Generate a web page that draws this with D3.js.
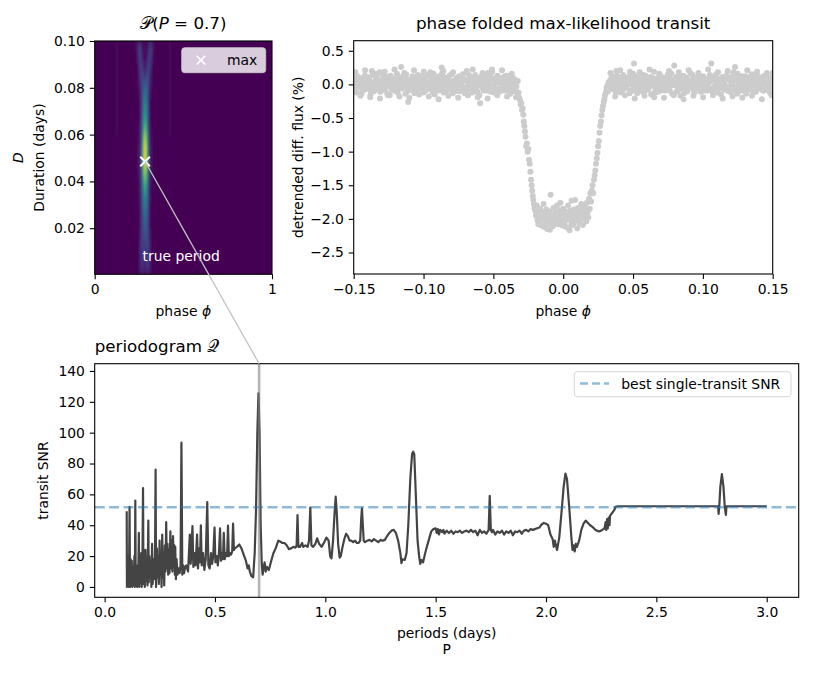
<!DOCTYPE html>
<html>
<head>
<meta charset="utf-8">
<title>periodogram</title>
<script src="https://cdn.jsdelivr.net/npm/d3@7"></script>
<style>
  body { margin: 0; background: #fff; }
  svg { display: block; font-family: 'DejaVu Sans', sans-serif; }
  .tick text { font-size: 13.9px; fill: #000; font-family: 'DejaVu Sans', sans-serif; }
  .tick line { stroke: #000; stroke-width: 1.1; }
  .label { font-size: 13.9px; fill: #000; }
  .title { font-size: 16.7px; fill: #000; }
</style>
</head>
<body>
<svg id="chart" width="830" height="675"></svg>
<script>
// ---- heatmap P(P=0.7): phase columns x duration rows ----
const heatPhases = [0.124, 0.234, 0.244, 0.254, 0.264, 0.274, 0.284, 0.294, 0.304, 0.314, 0.324, 0.334, 0.425]
const heatDurations = [0.0975, 0.0925, 0.0875, 0.0825, 0.0775, 0.0725, 0.0675, 0.0625, 0.0575, 0.0525,
                       0.0475, 0.0425, 0.0375, 0.0325, 0.0275, 0.0225, 0.0175, 0.0125, 0.0075, 0.0025]
const heatValues = [
  [0.03, 0.02, 0.10, 0.24, 0.07, 0.03, 0.03, 0.03, 0.07, 0.24, 0.10, 0.02, 0.03],
  [0.03, 0.01, 0.06, 0.22, 0.15, 0.05, 0.04, 0.05, 0.15, 0.22, 0.06, 0.01, 0.03],
  [0.03, 0.00, 0.03, 0.12, 0.25, 0.14, 0.08, 0.14, 0.25, 0.12, 0.03, 0.00, 0.03],
  [0.03, 0.00, 0.02, 0.07, 0.22, 0.28, 0.22, 0.28, 0.22, 0.07, 0.02, 0.00, 0.03],
  [0.03, 0.00, 0.01, 0.05, 0.16, 0.34, 0.40, 0.34, 0.16, 0.05, 0.01, 0.00, 0.03],
  [0.03, 0.00, 0.01, 0.04, 0.14, 0.40, 0.50, 0.40, 0.14, 0.04, 0.01, 0.00, 0.03],
  [0.03, 0.00, 0.01, 0.04, 0.15, 0.45, 0.60, 0.45, 0.15, 0.04, 0.01, 0.00, 0.03],
  [0.03, 0.00, 0.01, 0.05, 0.18, 0.55, 0.76, 0.55, 0.18, 0.05, 0.01, 0.00, 0.03],
  [0.02, 0.00, 0.02, 0.06, 0.22, 0.68, 0.92, 0.68, 0.22, 0.06, 0.02, 0.00, 0.02],
  [0.02, 0.00, 0.02, 0.07, 0.25, 0.76, 1.00, 0.76, 0.25, 0.07, 0.02, 0.00, 0.02],
  [0.02, 0.00, 0.02, 0.07, 0.25, 0.74, 0.98, 0.74, 0.25, 0.07, 0.02, 0.00, 0.02],
  [0.02, 0.00, 0.02, 0.06, 0.22, 0.62, 0.82, 0.62, 0.22, 0.06, 0.02, 0.00, 0.02],
  [0.02, 0.00, 0.01, 0.05, 0.18, 0.50, 0.64, 0.50, 0.18, 0.05, 0.01, 0.00, 0.02],
  [0.02, 0.00, 0.01, 0.05, 0.15, 0.42, 0.50, 0.42, 0.15, 0.05, 0.01, 0.00, 0.02],
  [0.02, 0.00, 0.01, 0.04, 0.14, 0.35, 0.40, 0.35, 0.14, 0.04, 0.01, 0.00, 0.02],
  [0.02, 0.00, 0.01, 0.04, 0.14, 0.30, 0.32, 0.30, 0.14, 0.04, 0.01, 0.00, 0.02],
  [0.02, 0.00, 0.01, 0.05, 0.16, 0.27, 0.24, 0.27, 0.16, 0.05, 0.01, 0.00, 0.02],
  [0.02, 0.00, 0.01, 0.06, 0.19, 0.23, 0.15, 0.23, 0.19, 0.06, 0.01, 0.00, 0.02],
  [0.02, 0.00, 0.01, 0.06, 0.19, 0.18, 0.09, 0.18, 0.19, 0.06, 0.01, 0.00, 0.02],
  [0.02, 0.00, 0.01, 0.05, 0.15, 0.13, 0.06, 0.13, 0.15, 0.05, 0.01, 0.00, 0.02]
]
const maxPoint = { phase: 0.284, duration: 0.0485 }

// ---- phase folded transit: [phase, detrended flux %] ----
const outOfTransit = [
  [-0.150,-0.05],[-0.149,0.08],[-0.148,-0.12],[-0.147,0.02],[-0.146,0.10],[-0.145,-0.03],[-0.144,0.05],[-0.143,-0.09],[-0.142,0.13],[-0.141,0.00],
  [-0.140,-0.06],[-0.139,0.07],[-0.138,-0.15],[-0.137,0.20],[-0.136,0.03],[-0.135,-0.08],[-0.134,0.11],[-0.133,-0.02],[-0.132,0.06],[-0.131,-0.11],
  [-0.130,0.15],[-0.129,0.01],[-0.128,-0.07],[-0.127,0.09],[-0.126,-0.13],[-0.125,0.04],[-0.124,0.12],[-0.123,-0.04],[-0.122,0.07],[-0.121,-0.09],
  [-0.120,0.02],[-0.119,0.16],[-0.118,-0.06],[-0.117,0.10],[-0.116,0.26],[-0.115,-0.01],[-0.114,0.05],[-0.113,-0.14],[-0.112,0.08],[-0.111,-0.26],
  [-0.110,0.03],[-0.109,-0.08],[-0.108,0.12],[-0.107,-0.03],[-0.106,0.06],[-0.105,-0.10],[-0.104,0.14],[-0.103,0.00],[-0.102,-0.05],[-0.101,0.09],
  [-0.100,-0.12],[-0.099,0.04],[-0.098,0.11],[-0.097,-0.07],[-0.096,0.02],[-0.095,0.18],[-0.094,-0.04],[-0.093,0.07],[-0.092,-0.15],[-0.091,0.10],
  [-0.090,0.01],[-0.089,-0.09],[-0.088,0.13],[-0.087,0.25],[-0.086,-0.02],[-0.085,0.06],[-0.084,-0.11],[-0.083,0.08],[-0.082,-0.06],[-0.081,0.03],
  [-0.080,0.15],[-0.079,-0.13],[-0.078,0.05],[-0.077,-0.01],[-0.076,0.10],[-0.075,-0.08],[-0.074,0.02],[-0.073,0.12],[-0.072,-0.05],[-0.071,0.07],
  [-0.070,-0.10],[-0.069,0.20],[-0.068,0.00],[-0.067,-0.07],[-0.066,0.09],[-0.065,-0.12],[-0.064,0.04],[-0.063,0.14],[-0.062,-0.03],[-0.061,0.06],
  [-0.060,-0.16],[-0.0595,-0.28],[-0.059,0.08],[-0.058,0.01],[-0.057,-0.09],[-0.056,0.11],[-0.055,-0.04],[-0.054,0.17],[-0.053,0.05],[-0.052,-0.11],
  [-0.051,0.22],[-0.050,-0.02],[-0.049,0.09],[-0.048,-0.07],[-0.047,0.13],[-0.046,0.03],[-0.045,-0.10],[-0.044,0.06],[-0.043,-0.05],[-0.042,0.12],
  [-0.041,0.00],[-0.040,-0.08],[-0.039,0.07],[-0.038,-0.14],[-0.037,0.04],[-0.036,0.10],[-0.035,-0.06],[-0.034,0.02],[-0.033,-0.12],[-0.0325,0.05],
  [-0.1495,0.03],[-0.1485,-0.08],[-0.1475,0.12],[-0.1465,-0.01],[-0.1455,0.06],[-0.1445,-0.14],[-0.1435,0.09],[-0.1425,-0.04],[-0.1415,0.02],[-0.1405,0.11],
  [-0.1395,-0.07],[-0.1385,0.05],[-0.1375,-0.02],[-0.1365,0.14],[-0.1355,-0.10],[-0.1345,0.01],[-0.1335,0.08],[-0.1325,-0.05],[-0.1315,0.18],[-0.1305,-0.09],
  [-0.1295,0.04],[-0.1285,0.10],[-0.1275,-0.03],[-0.1265,0.07],[-0.1255,-0.16],[-0.1245,0.00],[-0.1235,0.13],[-0.1225,-0.08],[-0.1215,0.05],[-0.1205,-0.02],
  [-0.1195,0.09],[-0.1185,-0.12],[-0.1175,0.03],[-0.1165,0.11],[-0.1155,-0.06],[-0.1145,0.07],[-0.1135,-0.01],[-0.1125,0.15],[-0.1115,-0.10],[-0.1105,0.02],
  [-0.1095,0.06],[-0.1085,-0.04],[-0.1075,0.10],[-0.1065,-0.13],[-0.1055,0.01],[-0.1045,0.08],[-0.1035,-0.07],[-0.1025,0.04],[-0.1015,0.12],[-0.1005,-0.02],
  [-0.0995,0.07],[-0.0985,-0.09],[-0.0975,0.02],[-0.0965,0.14],[-0.0955,-0.05],[-0.0945,0.09],[-0.0935,-0.11],[-0.0925,0.03],[-0.0915,0.06],[-0.0905,-0.03],
  [-0.0895,0.11],[-0.0885,-0.07],[-0.0875,0.04],[-0.0865,0.17],[-0.0855,-0.12],[-0.0845,0.00],[-0.0835,0.08],[-0.0825,-0.04],[-0.0815,0.13],[-0.0805,-0.08],
  [-0.0795,0.05],[-0.0785,0.01],[-0.0775,-0.10],[-0.0765,0.09],[-0.0755,-0.02],[-0.0745,0.12],[-0.0735,-0.06],[-0.0725,0.03],[-0.0715,0.07],[-0.0705,-0.13],
  [-0.0695,0.06],[-0.0685,-0.03],[-0.0675,0.14],[-0.0665,-0.08],[-0.0655,0.02],[-0.0645,0.10],[-0.0635,-0.05],[-0.0625,0.08],[-0.0615,-0.11],[-0.0605,0.04],
  [-0.0585,0.12],[-0.0575,-0.06],[-0.0565,0.03],[-0.0555,0.09],[-0.0545,-0.09],[-0.0535,0.01],[-0.0525,0.15],[-0.0515,-0.04],[-0.0505,0.07],[-0.0495,-0.12],
  [-0.0485,0.05],[-0.0475,0.11],[-0.0465,-0.07],[-0.0455,0.02],[-0.0445,0.09],[-0.0435,-0.02],[-0.0425,0.06],[-0.0415,-0.09],[-0.0405,0.13],[-0.0395,0.00],
  [-0.0385,0.08],[-0.0375,-0.05],[-0.0365,0.03],[-0.0355,-0.10],[-0.0345,0.07],[-0.0335,-0.03],
  [-0.1488,0.18],[-0.1452,-0.17],[-0.1418,0.21],[-0.1382,-0.19],[-0.1347,0.16],[-0.1312,-0.21],[-0.1278,0.19],[-0.1242,-0.16],[-0.1208,0.22],[-0.1172,-0.18],
  [-0.1138,0.17],[-0.1102,-0.20],[-0.1068,0.21],[-0.1032,-0.15],[-0.0998,0.19],[-0.0962,-0.18],[-0.0928,0.16],[-0.0892,-0.22],[-0.0858,0.20],[-0.0822,-0.17],
  [-0.0788,0.18],[-0.0752,-0.20],[-0.0718,0.15],[-0.0682,-0.16],[-0.0648,0.22],[-0.0612,-0.19],[-0.0578,0.17],[-0.0542,-0.21],[-0.0508,0.19],[-0.0472,-0.16],
  [-0.0438,0.21],[-0.0402,-0.18],[-0.0368,0.16],[-0.0338,-0.19],
  [-0.14925,-0.02],[-0.14675,0.07],[-0.14425,-0.06],[-0.14175,0.04],[-0.13925,0.10],[-0.13675,-0.09],[-0.13425,0.05],[-0.13175,-0.01],[-0.12925,-0.08],[-0.12675,0.11],
  [-0.12425,-0.04],[-0.12175,0.08],[-0.11925,-0.10],[-0.11675,0.02],[-0.11425,0.09],[-0.11175,-0.05],[-0.10925,0.06],[-0.10675,-0.02],[-0.10425,-0.09],[-0.10175,0.03],
  [-0.09925,0.10],[-0.09675,-0.03],[-0.09425,0.05],[-0.09175,-0.08],[-0.08925,0.07],[-0.08675,-0.05],[-0.08425,0.10],[-0.08175,0.00],[-0.07925,-0.07],[-0.07675,0.04],
  [-0.07425,-0.10],[-0.07175,0.09],[-0.06925,-0.04],[-0.06675,0.03],[-0.06425,-0.07],[-0.06175,0.10],[-0.05925,-0.02],[-0.05675,0.06],[-0.05425,-0.06],[-0.05175,0.09],
  [-0.04925,-0.03],[-0.04675,0.04],[-0.04425,-0.08],[-0.04175,0.10],[-0.03925,-0.05],[-0.03675,0.06],[-0.03425,-0.01],
  [0.032,-0.10],[0.033,0.04],[0.034,-0.02],[0.035,0.12],[0.036,-0.07],[0.037,0.06],[0.038,0.20],[0.039,-0.04],[0.040,0.09],[0.041,-0.12],
  [0.042,0.02],[0.043,0.14],[0.044,-0.06],[0.045,0.07],[0.046,-0.01],[0.047,0.11],[0.048,-0.09],[0.049,0.03],[0.050,0.16],[0.0507,0.31],
  [0.051,-0.05],[0.052,0.08],[0.053,-0.13],[0.054,0.01],[0.055,0.10],[0.056,-0.03],[0.057,0.06],[0.058,-0.10],[0.059,0.13],[0.060,0.00],
  [0.061,-0.07],[0.062,0.09],[0.063,-0.15],[0.064,0.04],[0.065,0.19],[0.066,-0.02],[0.067,0.07],[0.068,-0.11],[0.069,0.12],[0.070,0.02],
  [0.071,-0.06],[0.072,0.10],[0.073,-0.09],[0.074,0.05],[0.075,0.15],[0.076,-0.04],[0.077,0.08],[0.078,-0.14],[0.079,0.03],[0.0795,0.28],
  [0.080,-0.01],[0.081,0.11],[0.082,-0.08],[0.083,0.06],[0.084,-0.17],[0.085,0.02],[0.086,0.13],[0.087,-0.05],[0.088,0.09],[0.089,-0.10],
  [0.090,0.04],[0.091,0.17],[0.092,-0.03],[0.093,0.07],[0.094,-0.12],[0.095,0.01],[0.096,0.10],[0.097,-0.07],[0.098,0.05],[0.099,-0.02],
  [0.100,0.12],[0.101,-0.09],[0.102,0.03],[0.103,0.08],[0.104,-0.05],[0.105,0.14],[0.106,0.31],[0.107,-0.11],[0.108,0.06],[0.109,-0.01],
  [0.110,0.09],[0.111,-0.06],[0.112,0.04],[0.113,-0.15],[0.114,0.11],[0.115,0.00],[0.116,-0.08],[0.117,0.13],[0.118,-0.03],[0.119,0.07],
  [0.120,-0.12],[0.121,0.05],[0.122,0.18],[0.123,0.26],[0.124,-0.04],[0.125,0.08],[0.126,-0.10],[0.127,0.02],[0.128,0.12],[0.129,-0.06],
  [0.130,0.06],[0.131,-0.14],[0.132,0.10],[0.133,0.01],[0.134,-0.08],[0.135,0.15],[0.136,-0.02],[0.137,0.07],[0.138,-0.11],[0.139,0.04],
  [0.140,0.11],[0.141,-0.05],[0.142,0.08],[0.143,-0.09],[0.144,0.02],[0.145,0.13],[0.146,-0.04],[0.147,0.06],[0.148,-0.12],[0.149,0.09],[0.150,0.17],
  [0.0325,0.03],[0.0335,-0.06],[0.0345,0.09],[0.0355,-0.01],[0.0365,0.05],[0.0375,-0.11],[0.0385,0.13],[0.0395,0.01],[0.0405,-0.04],[0.0415,0.07],
  [0.0425,-0.08],[0.0435,0.04],[0.0445,0.10],[0.0455,-0.02],[0.0465,0.06],[0.0475,-0.13],[0.0485,0.08],[0.0495,0.00],[0.0505,-0.07],[0.0515,0.12],
  [0.0525,0.02],[0.0535,-0.05],[0.0545,0.09],[0.0555,-0.10],[0.0565,0.04],[0.0575,0.14],[0.0585,-0.03],[0.0595,0.07],[0.0605,-0.08],[0.0615,0.05],
  [0.0625,0.11],[0.0635,-0.02],[0.0645,0.06],[0.0655,-0.12],[0.0665,0.03],[0.0675,0.09],[0.0685,-0.05],[0.0695,0.13],[0.0705,-0.09],[0.0715,0.01],
  [0.0725,0.07],[0.0735,-0.03],[0.0745,0.10],[0.0755,-0.07],[0.0765,0.04],[0.0775,0.16],[0.0785,-0.01],[0.0805,0.06],[0.0815,-0.10],[0.0825,0.03],
  [0.0835,0.12],[0.0845,-0.04],[0.0855,0.08],[0.0865,-0.13],[0.0875,0.02],[0.0885,0.10],[0.0895,-0.06],[0.0905,0.05],[0.0915,-0.02],[0.0925,0.14],
  [0.0935,-0.08],[0.0945,0.04],[0.0955,0.09],[0.0965,-0.04],[0.0975,0.07],[0.0985,-0.11],[0.0995,0.02],[0.1005,0.11],[0.1015,-0.03],[0.1025,0.06],
  [0.1035,-0.09],[0.1045,0.03],[0.1055,0.12],[0.1065,-0.06],[0.1075,0.08],[0.1085,-0.02],[0.1095,0.15],[0.1105,-0.12],[0.1115,0.05],[0.1125,0.01],
  [0.1135,0.09],[0.1145,-0.07],[0.1155,0.04],[0.1165,-0.03],[0.1175,0.11],[0.1185,-0.10],[0.1195,0.06],[0.1205,0.00],[0.1215,0.13],[0.1225,-0.05],
  [0.1235,0.07],[0.1245,-0.14],[0.1255,0.03],[0.1265,0.10],[0.1275,-0.04],[0.1285,0.06],[0.1295,-0.09],[0.1305,0.12],[0.1315,0.02],[0.1325,-0.06],
  [0.1335,0.08],[0.1345,-0.02],[0.1355,0.05],[0.1365,-0.11],[0.1375,0.14],[0.1385,0.01],[0.1395,-0.07],[0.1405,0.09],[0.1415,-0.03],[0.1425,0.05],
  [0.1435,0.12],[0.1445,-0.08],[0.1455,0.03],[0.1465,0.10],[0.1475,-0.05],[0.1485,0.07],[0.1495,-0.01],
  [0.0338,0.17],[0.0372,-0.18],[0.0408,0.21],[0.0442,-0.16],[0.0478,0.19],[0.0512,-0.21],[0.0548,0.18],[0.0582,-0.17],[0.0618,0.22],[0.0652,-0.19],
  [0.0688,0.16],[0.0722,-0.20],[0.0758,0.20],[0.0792,-0.16],[0.0828,0.18],[0.0862,-0.22],[0.0898,0.21],[0.0932,-0.17],[0.0968,0.17],[0.1002,-0.19],
  [0.1038,0.22],[0.1072,-0.16],[0.1108,0.18],[0.1142,-0.21],[0.1178,0.20],[0.1212,-0.18],[0.1248,0.16],[0.1282,-0.20],[0.1318,0.21],[0.1352,-0.17],
  [0.1388,0.19],[0.1422,-0.22],[0.1458,0.17],[0.1492,-0.16],
  [0.03375,0.06],[0.03625,-0.03],[0.03875,-0.08],[0.04125,0.10],[0.04375,-0.05],[0.04625,0.03],[0.04875,-0.10],[0.05125,0.07],[0.05375,-0.02],[0.05625,0.08],
  [0.05875,-0.06],[0.06125,0.02],[0.06375,0.10],[0.06625,-0.07],[0.06875,0.04],[0.07125,-0.03],[0.07375,0.09],[0.07625,-0.09],[0.07875,0.06],[0.08125,-0.01],
  [0.08375,-0.07],[0.08625,0.10],[0.08875,-0.04],[0.09125,0.05],[0.09375,-0.09],[0.09625,0.08],[0.09875,-0.02],[0.10125,0.04],[0.10375,-0.08],[0.10625,0.10],
  [0.10875,-0.05],[0.11125,0.07],[0.11375,-0.01],[0.11625,0.09],[0.11875,-0.07],[0.12125,0.03],[0.12375,-0.10],[0.12625,0.06],[0.12875,-0.03],[0.13125,0.08],
  [0.13375,-0.06],[0.13625,0.10],[0.13875,-0.04],[0.14125,0.02],[0.14375,-0.09],[0.14625,0.07],[0.14875,-0.02]
]
const inTransit = [
  [-0.0320,-0.12],[-0.0315,-0.20],[-0.0310,-0.23],[-0.0305,-0.30],[-0.0300,-0.28],[-0.0295,-0.38],[-0.0290,-0.36],[-0.0286,-0.45],[-0.0282,-0.55],[-0.0278,-0.62],
  [-0.0274,-0.70],[-0.0270,-0.78],[-0.0265,-0.92],[-0.0260,-0.88],[-0.0255,-1.00],[-0.0250,-0.96],[-0.0245,-1.12],[-0.0240,-1.18],[-0.0235,-1.30],[-0.0230,-1.42],
  [-0.0226,-1.50],[-0.0222,-1.58],[-0.0218,-1.66],[-0.0214,-1.72],[-0.0210,-1.78],[-0.0205,-1.84],[-0.0200,-1.88],
  [-0.0195,-1.95],[-0.019,-1.80],[-0.0185,-2.02],[-0.018,-1.88],[-0.0175,-1.92],[-0.017,-2.05],[-0.0165,-1.85],[-0.016,-1.98],[-0.0155,-2.10],[-0.015,-1.90],
  [-0.0145,-2.00],[-0.014,-1.78],[-0.0135,-2.12],[-0.013,-1.94],[-0.0125,-2.04],[-0.012,-1.86],[-0.0115,-2.15],[-0.011,-1.96],[-0.0105,-2.07],[-0.010,-1.89],
  [-0.0095,-2.16],[-0.009,-1.64],[-0.0085,-2.01],[-0.008,-1.93],[-0.0075,-2.11],[-0.007,-1.84],[-0.0065,-1.98],[-0.006,-2.06],[-0.0055,-1.91],[-0.005,-2.00],
  [-0.0045,-1.80],[-0.004,-1.95],[-0.0035,-2.08],[-0.003,-1.87],[-0.0025,-1.99],[-0.002,-1.76],[-0.0015,-2.03],[-0.001,-1.92],[-0.0005,-2.10],[0.000,-1.85],
  [0.0005,-1.97],[0.001,-2.05],[0.0015,-1.89],[0.002,-2.12],[0.0025,-1.94],[0.003,-2.01],[0.0035,-1.80],[0.004,-1.96],[0.0045,-2.17],[0.005,-1.88],
  [0.0055,-2.03],[0.006,-1.73],[0.0065,-1.95],[0.007,-2.08],[0.0075,-1.86],[0.008,-1.99],[0.0085,-1.72],[0.009,-2.02],[0.0095,-1.92],[0.010,-2.14],
  [0.0105,-1.84],[0.011,-1.97],[0.0115,-2.06],[0.012,-1.90],[0.0125,-2.00],[0.013,-1.78],[0.0135,-1.95],[0.014,-2.09],[0.0145,-1.87],[0.015,-2.00],
  [0.0155,-1.82],[0.016,-1.94],[0.0165,-2.04],[0.017,-1.76],[0.0175,-1.90],[0.018,-1.98],[0.0185,-1.70],[0.019,-1.85],[0.0195,-1.62],[0.020,-1.74],
  [-0.0178,-2.08],[-0.0142,-1.92],[-0.0118,-1.98],[-0.0082,-2.09],[-0.0042,-2.04],[0.0012,-1.93],[0.0058,-2.10],[0.0098,-1.97],[0.0138,-1.86],[0.0172,-1.96],
  [0.0205,-1.58],[0.021,-1.50],[0.0215,-1.62],[0.022,-1.42],[0.0225,-1.35],[0.023,-1.28],[0.0235,-1.18],[0.024,-1.10],[0.0245,-1.02],[0.025,-0.92],
  [0.0255,-0.84],[0.026,-0.72],[0.0265,-0.62],[0.027,-0.55],[0.0275,-0.46],[0.028,-0.38],[0.0285,-0.32],[0.029,-0.26],[0.0295,-0.22],[0.030,-0.16],
  [0.0305,-0.12],[0.031,-0.06],[0.0315,-0.02],[0.0318,-0.10]
]

// ---- periodogram: [period (days), transit SNR] ----
const periodogram = [
  [0.100,49],[0.101,0],[0.104,20],[0.106,2],[0.108,15],[0.110,0],[0.113,52],[0.115,0],[0.118,18],[0.120,2],
  [0.123,17],[0.125,0],[0.128,10],[0.131,1],[0.135,20],[0.137,0],[0.139,56],[0.141,1],[0.144,12],[0.147,0],
  [0.150,14],[0.152,2],[0.155,35],[0.157,0],[0.160,19],[0.163,3],[0.166,22],[0.168,0],[0.171,12],[0.174,64],
  [0.176,2],[0.179,18],[0.182,0],[0.185,24],[0.188,4],[0.191,16],[0.194,1],[0.198,43],[0.200,3],[0.203,20],
  [0.206,6],[0.209,14],[0.212,0],[0.215,28],[0.218,2],[0.221,18],[0.224,5],[0.228,12],[0.231,76],[0.233,0],
  [0.237,25],[0.240,6],[0.243,20],[0.246,2],[0.249,30],[0.252,8],[0.255,18],[0.258,0],[0.261,34],[0.264,6],
  [0.267,22],[0.270,1],[0.273,27],[0.276,10],[0.279,42],[0.282,12],[0.285,28],[0.288,8],[0.291,24],[0.294,9],
  [0.298,36],[0.301,12],[0.304,30],[0.307,10],[0.310,33],[0.313,14],[0.316,27],[0.318,8],[0.320,26],[0.323,5],
  [0.326,18],[0.330,8],[0.335,12],[0.340,9],[0.344,14],[0.348,93.5],[0.352,8],[0.356,14],[0.360,9],[0.365,13],
  [0.370,14],[0.378,10],[0.386,34],[0.390,15],[0.398,39.5],[0.402,13],[0.408,22],[0.412,14],[0.419,34],[0.423,12],
  [0.428,25],[0.432,16],[0.436,40],[0.440,14],[0.446,22],[0.452,11],[0.458,18],[0.465,55],[0.470,14],[0.476,12],
  [0.482,22],[0.487,15],[0.492,20],[0.498,38.5],[0.502,16],[0.508,20],[0.513,14],[0.518,22],[0.523,38],[0.527,17],
  [0.532,22],[0.536,18],[0.540,35],[0.544,18],[0.550,22],[0.555,20],[0.559,39.7],[0.563,20],[0.568,22],[0.573,21],
  [0.578,23],[0.582,41],[0.586,24],[0.590,25],[0.600,26],[0.610,27.5],[0.620,25],[0.630,21],[0.640,17],[0.648,12],
  [0.653,14],[0.658,10],[0.665,7],[0.673,6.3],[0.680,22],[0.686,50],[0.692,100],[0.697,125.5],[0.702,100],[0.707,40],
  [0.712,15],[0.716,8],[0.720,12],[0.725,16],[0.730,10],[0.735,13],[0.744,11],[0.755,17],[0.765,22],[0.775,25],
  [0.787,30],[0.795,29.5],[0.805,28.5],[0.815,28.5],[0.825,27],[0.835,24.5],[0.845,25],[0.855,26],[0.865,25.5],[0.870,27],
  [0.874,46.5],[0.878,26],[0.885,26],[0.895,28.5],[0.900,26],[0.910,27],[0.920,26],[0.926,30],[0.932,51.5],[0.937,27],
  [0.945,26],[0.955,28],[0.963,31.5],[0.972,28],[0.983,26],[0.995,29],[1.005,32],[1.015,30],[1.022,20],[1.028,18.5],
  [1.035,30],[1.042,48],[1.047,58.5],[1.052,48],[1.058,28],[1.065,19],[1.070,20],[1.078,26],[1.086,31],[1.094,34.5],
  [1.102,33],[1.110,30],[1.118,30],[1.126,29],[1.135,30],[1.142,28.5],[1.150,28.5],[1.158,30],[1.163,45],[1.166,51],
  [1.170,40],[1.174,30],[1.180,29],[1.190,30],[1.200,30.5],[1.210,29.5],[1.220,31],[1.230,30],[1.240,29],[1.250,30.5],
  [1.260,30],[1.270,30.5],[1.280,33],[1.290,35],[1.300,36.5],[1.310,37],[1.320,35],[1.330,30],[1.340,22],[1.345,15.5],
  [1.350,18],[1.360,17.5],[1.368,22],[1.376,40],[1.385,70],[1.393,86],[1.398,87.7],[1.403,86],[1.410,60],[1.418,30],
  [1.425,20],[1.430,15],[1.436,17.5],[1.443,16],[1.451,21],[1.460,26],[1.470,31],[1.480,36],[1.490,37.5],[1.500,38],
  [1.505,35],[1.510,37.5],[1.515,34],[1.520,37],[1.530,35.5],[1.535,37],[1.540,34.5],[1.550,36.5],[1.560,35],[1.570,36.5],
  [1.580,34.5],[1.590,36],[1.600,35.5],[1.610,36.5],[1.620,35],[1.630,36],[1.640,36.5],[1.650,35.5],[1.660,37],[1.670,35.5],
  [1.680,36.5],[1.690,33.5],[1.700,37],[1.710,35],[1.720,36],[1.730,34.5],[1.740,37],[1.745,59],[1.750,37],[1.755,35.5],
  [1.760,37],[1.770,34],[1.780,36],[1.790,35],[1.800,36.5],[1.810,34],[1.820,36],[1.830,35],[1.840,36.5],[1.850,33.5],
  [1.860,36],[1.870,35.5],[1.880,36.5],[1.890,34.5],[1.900,36.5],[1.910,37],[1.920,36],[1.930,37.5],[1.940,37],[1.950,37.5],
  [1.960,38],[1.970,38.5],[1.980,40.5],[1.990,41.5],[2.000,41],[2.010,40],[2.020,34],[2.030,31],[2.035,26],[2.040,30],
  [2.045,27],[2.050,24],[2.060,32],[2.070,48],[2.080,65],[2.088,73.5],[2.095,70],[2.105,52],[2.115,32],[2.120,24],
  [2.125,27],[2.130,23],[2.135,28],[2.140,26],[2.150,30],[2.160,37],[2.170,41],[2.180,43],[2.190,41.5],[2.200,40],
  [2.210,39],[2.220,37.5],[2.230,36.5],[2.240,36],[2.250,36.5],[2.260,37.5],[2.265,38],[2.270,42],[2.273,37],[2.277,44],
  [2.280,38],[2.284,45],[2.288,40],[2.290,46],[2.295,47],[2.300,48],[2.310,50],[2.315,52],[2.325,52.3],[2.780,52.3],
  [2.782,47.3],[2.785,52],[2.790,65],[2.797,73.2],[2.804,65],[2.810,52],[2.815,46.7],[2.818,52.3],[3.000,52.3]
]
const bestSingleSNR = 51.6
const truePeriod = 0.7

// ---- ticks ----
const heatXTicks = [0, 1]
const heatYTicks = [0.02, 0.04, 0.06, 0.08, 0.10]
const foldXTicks = [-0.15, -0.10, -0.05, 0.00, 0.05, 0.10, 0.15]
const foldYTicks = [0.5, 0.0, -0.5, -1.0, -1.5, -2.0, -2.5]
const perXTicks = [0.0, 0.5, 1.0, 1.5, 2.0, 2.5, 3.0]
const perYTicks = [0, 20, 40, 60, 80, 100, 120, 140]

// ---- layout ----
const heatBox = { left: 94.7, right: 272, top: 41, bottom: 274.3 }
const foldBox = { left: 353.7, right: 772.7, top: 40.7, bottom: 274 }
const perBox = { left: 94.7, right: 798.7, top: 363.7, bottom: 597.3 }
const tickLen = 4.9

const svg = d3.select("#chart")
const defs = svg.append("defs")
const minus = s => s.replace(/-/g, "\u2212")

const xHeat = d3.scaleLinear().domain([0, 1]).range([heatBox.left, heatBox.right])
const yHeat = d3.scaleLinear().domain([0.0003, 0.1]).range([heatBox.bottom, heatBox.top])
const xFold = d3.scaleLinear().domain([-0.15, 0.15]).range([foldBox.left, foldBox.right])
const yFold = d3.scaleLinear().domain([-2.82, 0.65]).range([foldBox.bottom, foldBox.top])
const xPer = d3.scaleLinear().domain([-0.045, 3.145]).range([perBox.left, perBox.right])
const yPer = d3.scaleLinear().domain([-6.7, 144.7]).range([perBox.bottom, perBox.top])

function clipFor(id, box) {
  defs.append("clipPath").attr("id", id)
    .append("rect")
      .attr("x", box.left).attr("y", box.top)
      .attr("width", box.right - box.left).attr("height", box.bottom - box.top)
  return `url(#${id})`
}

function axes(box, x, y, xTicks, yTicks, xFmt, yFmt) {
  svg.append("g")
    .attr("transform", `translate(0,${box.bottom})`)
    .call(d3.axisBottom(x).tickValues(xTicks).tickFormat(xFmt).tickSize(tickLen).tickPadding(4.9))
    .call(g => g.select(".domain").remove())
  svg.append("g")
    .attr("transform", `translate(${box.left},0)`)
    .call(d3.axisLeft(y).tickValues(yTicks).tickFormat(yFmt).tickSize(tickLen).tickPadding(4.9))
    .call(g => g.select(".domain").remove())
}

function frame(box) {
  svg.append("rect")
    .attr("x", box.left).attr("y", box.top)
    .attr("width", box.right - box.left).attr("height", box.bottom - box.top)
    .attr("fill", "none").attr("stroke", "#000").attr("stroke-width", 1.1)
}

function label(x, y, text, rotate, cls) {
  const t = svg.append("text")
    .attr("class", cls || "label")
    .attr("text-anchor", "middle")
    .attr("transform", `translate(${x},${y})` + (rotate ? " rotate(-90)" : ""))
  return t.text(text)
}

// ================= heatmap =================
defs.append("filter").attr("id", "soft")
  .attr("x", "-50%").attr("y", "-50%").attr("width", "200%").attr("height", "200%")
  .append("feGaussianBlur").attr("stdDeviation", "1.1 5")

const heatG = svg.append("g").attr("clip-path", clipFor("clipHeat", heatBox))
heatG.append("rect")
  .attr("x", heatBox.left).attr("y", heatBox.top)
  .attr("width", heatBox.right - heatBox.left).attr("height", heatBox.bottom - heatBox.top)
  .attr("fill", d3.interpolateViridis(0))

const cells = []
heatDurations.forEach((d, i) => heatPhases.forEach((p, j) => cells.push({ p, d, v: heatValues[i][j] })))
heatG.append("g").attr("filter", "url(#soft)")
  .selectAll("rect")
  .data(cells)
  .join("rect")
    .attr("x", c => xHeat(c.p - 0.005))
    .attr("y", c => yHeat(c.d + 0.0025) - 0.3)
    .attr("width", xHeat(0.01) - xHeat(0) + 0.2)
    .attr("height", yHeat(0) - yHeat(0.005) + 0.6)
    .attr("fill", c => d3.interpolateViridis(c.v))

axes(heatBox, xHeat, yHeat, heatXTicks, heatYTicks, d3.format("d"), d3.format(".2f"))

// legend
svg.append("rect")
  .attr("x", 181.7).attr("y", 47.7).attr("width", 84).attr("height", 25).attr("rx", 3)
  .attr("fill", "#fff").attr("fill-opacity", 0.8).attr("stroke", "#ccc").attr("stroke-opacity", 0.8)
const cross = (g, cx, cy, r, w) => g.append("path")
  .attr("d", `M${cx - r},${cy - r}L${cx + r},${cy + r}M${cx - r},${cy + r}L${cx + r},${cy - r}`)
  .attr("stroke", "#fff").attr("stroke-width", w).attr("fill", "none")
cross(svg, 201, 60.2, 4.4, 1.6)
svg.append("text").attr("class", "label").attr("x", 227).attr("y", 65).text("max")

svg.append("text").attr("class", "label").attr("fill", "#fff").style("fill", "#fff")
  .attr("x", xHeat(0.27)).attr("y", 260.5).text("true period")

label(183.3, 29, "", false, "title").call(t => {
  t.append("tspan").text("\u{1D4AB}")
  t.append("tspan").text("(")
  t.append("tspan").attr("font-style", "italic").text("P")
  t.append("tspan").text(" = 0.7)")
})
label(183.3, 316, "phase ", false).append("tspan").attr("font-style", "italic").text("\u03D5")
label(23, 157.6, "D", true).attr("font-style", "italic")
label(44, 157.6, "Duration (days)", true)

// ================= phase folded transit =================
const foldG = svg.append("g").attr("clip-path", clipFor("clipFold", foldBox))
foldG.selectAll("circle")
  .data(outOfTransit.concat(inTransit))
  .join("circle")
    .attr("cx", d => xFold(d[0]))
    .attr("cy", d => yFold(d[1]))
    .attr("r", 3)
    .attr("fill", "#cccccc")

axes(foldBox, xFold, yFold, foldXTicks, foldYTicks, v => minus(d3.format(".2f")(v)), v => minus(d3.format(".1f")(v)))
frame(foldBox)
label((foldBox.left + foldBox.right) / 2, 29, "phase folded max-likelihood transit", false, "title")
label((foldBox.left + foldBox.right) / 2, 316, "phase ", false).append("tspan").attr("font-style", "italic").text("\u03D5")
label(303, (foldBox.top + foldBox.bottom) / 2, "detrended diff. flux (%)", true)

// ================= periodogram =================
const perG = svg.append("g").attr("clip-path", clipFor("clipPer", perBox))
perG.append("path")
  .datum(periodogram)
  .attr("d", d3.line().x(d => xPer(d[0])).y(d => yPer(d[1])))
  .attr("fill", "none").attr("stroke", "#444").attr("stroke-width", 2.2).attr("stroke-linejoin", "round")
perG.append("line")
  .attr("x1", perBox.left).attr("x2", perBox.right)
  .attr("y1", yPer(bestSingleSNR)).attr("y2", yPer(bestSingleSNR))
  .attr("stroke", "#1f77b4").attr("stroke-opacity", 0.5).attr("stroke-width", 2.5).attr("stroke-dasharray", "10,4.4")
perG.append("line")
  .attr("x1", xPer(truePeriod)).attr("x2", xPer(truePeriod))
  .attr("y1", perBox.top).attr("y2", perBox.bottom)
  .attr("stroke", "#808080").attr("stroke-opacity", 0.6).attr("stroke-width", 2.5)

axes(perBox, xPer, yPer, perXTicks, perYTicks, d3.format(".1f"), d3.format("d"))
frame(perBox)

svg.append("rect")
  .attr("x", 574.3).attr("y", 371.7).attr("width", 216.7).attr("height", 25).attr("rx", 3)
  .attr("fill", "#fff").attr("fill-opacity", 0.8).attr("stroke", "#ccc").attr("stroke-opacity", 0.8)
svg.append("line")
  .attr("x1", 580).attr("x2", 609).attr("y1", 383.5).attr("y2", 383.5)
  .attr("stroke", "#1f77b4").attr("stroke-opacity", 0.5).attr("stroke-width", 2.5).attr("stroke-dasharray", "8,4")
svg.append("text").attr("class", "label").attr("x", 621.3).attr("y", 388.5).text("best single-transit SNR")

svg.append("text").attr("class", "title").attr("x", perBox.left).attr("y", 351.5)
  .text("periodogram ").append("tspan").text("\u{1D4AC}")
label((perBox.left + perBox.right) / 2, 637.5, "periods (days)", false)
label((perBox.left + perBox.right) / 2, 654, "P", false)
label(48, (perBox.top + perBox.bottom) / 2, "transit SNR", true)

// heatmap frame and the pointer line from the max to the true period
frame(heatBox)
cross(svg, xHeat(maxPoint.phase), yHeat(maxPoint.duration), 4.8, 2)
svg.append("line")
  .attr("x1", xHeat(maxPoint.phase)).attr("y1", yHeat(maxPoint.duration))
  .attr("x2", xPer(truePeriod)).attr("y2", perBox.top)
  .attr("stroke", "#c4c4c4").attr("stroke-width", 1.3)
</script>
</body>
</html>
